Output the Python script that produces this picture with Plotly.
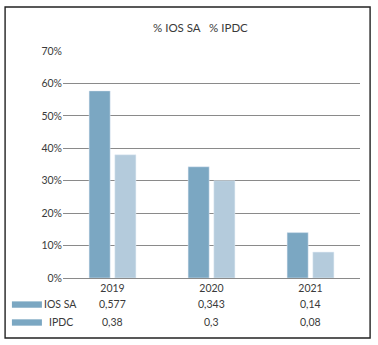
import plotly.graph_objects as go

years = ['2019', '2020', '2021']
ios_sa = [0.577, 0.343, 0.14]
ipdc = [0.38, 0.3, 0.08]
ios_labels = ['0,577', '0,343', '0,14']
ipdc_labels = ['0,38', '0,3', '0,08']

dark = '#7ba7c2'
light = '#b4cbdc'
txt = '#3a3a3a'

fig = go.Figure()
fig.add_trace(go.Bar(x=years, y=ios_sa, name='IOS SA', marker_color=dark))
fig.add_trace(go.Bar(x=years, y=ipdc, name='IPDC', marker_color=light))

# data table rows below the axis (x = category index)
rows = [('IOS SA', ios_labels, -0.115), ('IPDC', ipdc_labels, -0.194)]
for name, labels, yp in rows:
    for i, lab in enumerate(labels):
        fig.add_annotation(x=i, y=yp, xref='x', yref='paper', text=lab,
                           xanchor='center', yanchor='middle',
                           showarrow=False, font=dict(size=10.5, color=txt))
    fig.add_annotation(x=-0.007, y=yp, xref='paper', yref='paper', text=name,
                       xanchor='center', yanchor='middle',
                       showarrow=False, font=dict(size=10.5, color=txt))
    fig.add_shape(type='rect', xref='paper', yref='paper',
                  x0=-0.172, x1=-0.071, y0=yp - 0.016, y1=yp + 0.012,
                  fillcolor=dark, line_width=0)

# outer frame
fig.add_shape(type='rect', xref='paper', yref='paper',
              x0=-0.195, x1=1.034, y0=-0.264, y1=1.194,
              line=dict(color='#222222', width=1.4))

fig.add_annotation(x=0.463, y=1.105, xref='paper', yref='paper',
                   text='% IOS SA   % IPDC', showarrow=False,
                   xanchor='center', yanchor='middle',
                   font=dict(size=11.5, color=txt))

fig.update_layout(
    width=378, height=345,
    margin=dict(l=63, r=18, t=51, b=67),
    barmode='group', bargap=0.48, bargroupgap=0.18,
    showlegend=False,
    plot_bgcolor='white', paper_bgcolor='white',
    font=dict(family='Lato', size=10.5, color=txt),
)
fig.update_yaxes(range=[0, 0.7], dtick=0.1, tickformat='.0%',
                 showgrid=True, gridcolor='#8a8a8a', gridwidth=1,
                 zeroline=True, zerolinecolor='#8a8a8a', zerolinewidth=1,
                 ticks='', showline=False)
fig.update_xaxes(type='category', range=[-0.5, 2.5], showline=False, ticks='',
                 ticklabelstandoff=2, tickfont=dict(size=10.5, color=txt))

fig.write_html('out.html', config={'displayModeBar': False},
               post_script="document.body.style.margin='0';")
